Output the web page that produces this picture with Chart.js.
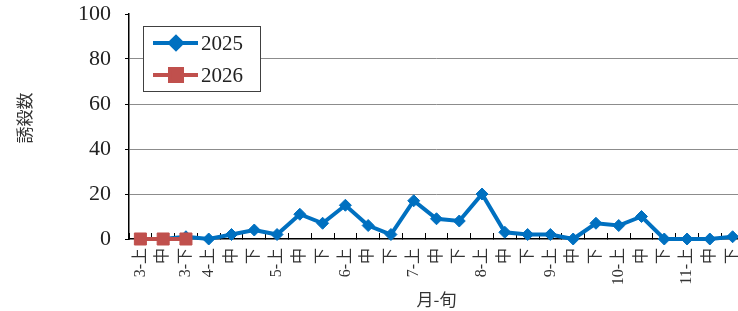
<!DOCTYPE html>
<html>
<head>
<meta charset="utf-8">
<script src="https://cdn.jsdelivr.net/npm/chart.js@4/dist/chart.umd.min.js"></script>
<style>
html, body { margin: 0; padding: 0; background: #fff; overflow: hidden; }
</style>
</head>
<body>
<canvas id="chart" width="744" height="311"></canvas>
<script>
var labels = ['3-上', '中', '3-下', '4-上', '中', '下', '5-上', '中', '下', '6-上', '中', '下',
  '7-上', '中', '下', '8-上', '中', '下', '9-上', '中', '下', '10-上', '中', '下', '11-上', '中', '下'];
var counts2025 = [0, 0, 1, 0, 2, 4, 2, 11, 7, 15, 6, 2, 17, 9, 8, 20, 3, 2, 2, 0, 7, 6, 10, 0, 0, 0, 1];
var counts2026 = [0, 0, 0];
var yMin = 0;
var yMax = 100;
var yStep = 20;

var serif = '"Liberation Serif", "Noto Sans CJK JP", serif';
var cjk = '"Noto Sans CJK JP", sans-serif';

// legend drawn inside the plot with a white box, like the original
var boxLegend = {
  id: 'boxLegend',
  afterDraw: function(chart) {
    var ctx = chart.ctx;
    var sets = chart.data.datasets;
    ctx.save();
    ctx.fillStyle = '#ffffff';
    ctx.fillRect(143.5, 26.5, 117, 65);
    ctx.strokeStyle = '#404040';
    ctx.lineWidth = 1;
    ctx.strokeRect(143.5, 26.5, 117, 65);
    for (var i = 0; i < sets.length; i++) {
      var y = 43 + i * 32;
      ctx.strokeStyle = sets[i].borderColor;
      ctx.lineWidth = 4;
      ctx.beginPath();
      ctx.moveTo(153, y);
      ctx.lineTo(198, y);
      ctx.stroke();
      ctx.fillStyle = sets[i].pointBackgroundColor;
      ctx.strokeStyle = sets[i].pointBorderColor;
      Chart.helpers.drawPoint(ctx, {
        pointStyle: sets[i].pointStyle,
        rotation: 0,
        radius: sets[i].pointRadius,
        borderWidth: 1
      }, 176, y);
      ctx.fillStyle = '#222';
      ctx.font = '21px ' + serif;
      ctx.textAlign = 'left';
      ctx.textBaseline = 'middle';
      ctx.fillText(sets[i].label, 201, y + 1);
    }
    ctx.restore();
  }
};

var ctx = document.getElementById('chart').getContext('2d');
var chart = new Chart(ctx, {
  type: 'line',
  data: {
    labels: labels,
    datasets: [
      {
        label: '2025',
        data: counts2025,
        borderColor: '#0070C0',
        backgroundColor: '#0070C0',
        pointBackgroundColor: '#0070C0',
        pointBorderColor: '#0070C0',
        pointStyle: 'rectRot',
        pointRadius: 6,
        pointBorderWidth: 1,
        borderWidth: 4,
        tension: 0,
        clip: false,
        order: 1
      },
      {
        label: '2026',
        data: counts2026,
        borderColor: '#C0504D',
        backgroundColor: '#C0504D',
        pointBackgroundColor: '#C0504D',
        pointBorderColor: '#C0504D',
        pointStyle: 'rect',
        pointRadius: 8.5,
        pointBorderWidth: 1,
        borderWidth: 4,
        tension: 0,
        clip: false,
        order: 0
      }
    ]
  },
  options: {
    responsive: false,
    animation: false,
    layout: { autoPadding: false, padding: { top: 14, right: 0, bottom: 0, left: 0 } },
    plugins: {
      legend: { display: false },
      tooltip: { enabled: false }
    },
    scales: {
      x: {
        offset: true,
        afterFit: function(scale) {
          scale.height = 72;
          scale.paddingLeft = 0;
          scale.paddingRight = 0;
        },
        grid: {
          offset: true,
          drawOnChartArea: false,
          color: '#000',
          tickColor: '#000',
          tickLength: -6
        },
        border: { color: '#000', width: 1.5 },
        ticks: {
          autoSkip: false,
          maxRotation: 90,
          minRotation: 90,
          padding: 15,
          color: '#333',
          font: { family: serif, size: 16 }
        },
        title: {
          display: true,
          text: '月-旬',
          color: '#333',
          padding: { top: 0, bottom: 1 },
          font: { family: cjk, size: 17 }
        }
      },
      y: {
        min: yMin,
        max: yMax,
        afterFit: function(scale) {
          scale.width = 129;
          scale.paddingTop = 0;
          scale.paddingBottom = 0;
        },
        grid: {
          color: function(c) {
            return (c.tick.value === yMin || c.tick.value === yMax) ? 'rgba(0,0,0,0)' : '#8c8c8c';
          },
          tickColor: '#000',
          tickLength: 4
        },
        border: { color: '#000', width: 1.5 },
        ticks: {
          stepSize: yStep,
          padding: 14,
          color: '#222',
          font: { family: serif, size: 22 }
        },
        title: {
          display: true,
          text: '\u3000誘殺数',
          color: '#333',
          padding: { top: 14, bottom: 0 },
          font: { family: cjk, size: 17 }
        }
      }
    }
  },
  plugins: [boxLegend]
});
</script>
</body>
</html>
